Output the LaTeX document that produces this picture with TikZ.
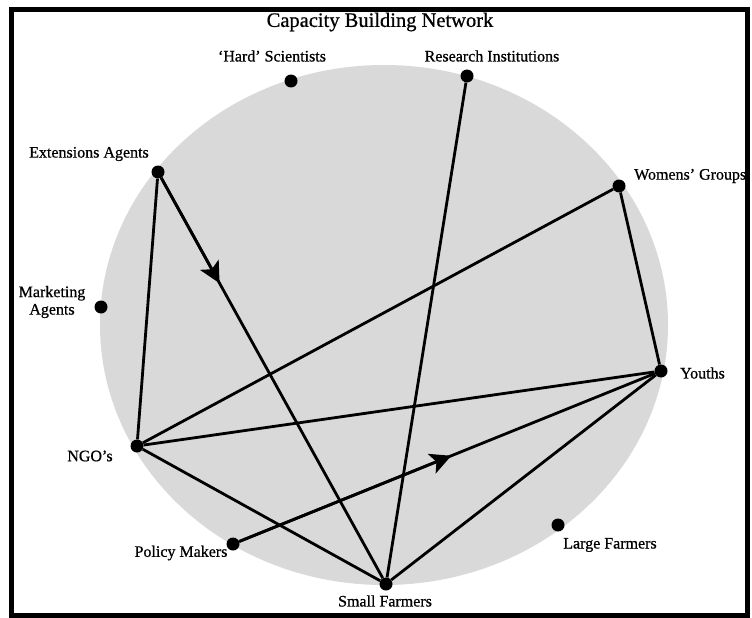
\documentclass[tikz,border=0pt]{standalone}
\usepackage{fontspec}
\setmainfont{Liberation Serif}
\newfontfamily\heavyserif{Liberation Serif}[Ligatures=TeX,FakeBold=0.7]
\usetikzlibrary{arrows.meta,calc}

\tikzset{
  dot/.style={circle, fill=black, inner sep=0pt, minimum size=13pt},
  lbl/.style={font=\heavyserif\fontsize{16}{17.5}\selectfont, inner sep=0pt},
  link/.style={line width=2.8pt, draw=black},
  headed/.style={line width=2.8pt, draw=black,
    -{Stealth[length=21pt,width=21pt,inset=5pt]}},
}

\begin{document}
\begin{tikzpicture}[x=1pt,y=-1pt]
  \useasboundingbox (0,0) rectangle (752,618);
  \fill[white] (0,0) rectangle (752,618);

  % frame
  \draw[line width=5pt] (11,10) rectangle (747,615);

  % shaded disc
  \fill[black!15] (384,325) ellipse [x radius=284, y radius=260];

  % title
  \node[font=\heavyserif\fontsize{20.5}{22}\selectfont] (title) at (380,22) {Capacity Building Network};

  % actors
  \node[dot] (hard) at (291,81) {};
  \node[dot] (res)  at (467,76) {};
  \node[dot] (ext)  at (158,172) {};
  \node[dot] (wom)  at (619,186) {};
  \node[dot] (mkt)  at (101,307) {};
  \node[dot] (you)  at (661,371) {};
  \node[dot] (ngo)  at (137,446) {};
  \node[dot] (lrg)  at (558,525) {};
  \node[dot] (pol)  at (233,544) {};
  \node[dot] (sml)  at (386,584) {};

  % labels
  \node[lbl] (hardL) at (272,56) {‘Hard’ Scientists};
  \node[lbl] (resL)  at (492,56) {Research Institutions};
  \node[lbl] (extL)  at (89,154) {Extensions Agents};
  \node[lbl, anchor=west] (womL) at (634,176) {Womens’ Groups};
  \node[lbl, align=center] (mktL) at (52,302) {Marketing\\Agents};
  \node[lbl, anchor=west] (youL) at (680,373) {Youths};
  \node[lbl] (ngoL)  at (90,456) {NGO’s};
  \node[lbl] (lrgL)  at (610,545) {Large Farmers};
  \node[lbl] (polL)  at (181,553) {Policy Makers};
  \node[lbl] (smlL)  at (385,601) {Small Farmers};

  % direction marks part-way along two ties
  \coordinate (extMid) at ($(ext.center)!0.27!(sml.center)$);
  \coordinate (polMid) at ($(pol.center)!0.51!(you.center)$);

  % ties
  \draw[link] (ext) -- (ngo);
  \draw[link] (ext) -- (sml);
  \draw[headed] (ext) -- (extMid);
  \draw[link] (res) -- (sml);
  \draw[link] (wom) -- (ngo);
  \draw[link] (wom) -- (you);
  \draw[link] (you) -- (ngo);
  \draw[link] (ngo) -- (sml);
  \draw[link] (you) -- (sml);
  \draw[link] (pol) -- (you);
  \draw[headed] (pol) -- (polMid);
\end{tikzpicture}
\end{document}
